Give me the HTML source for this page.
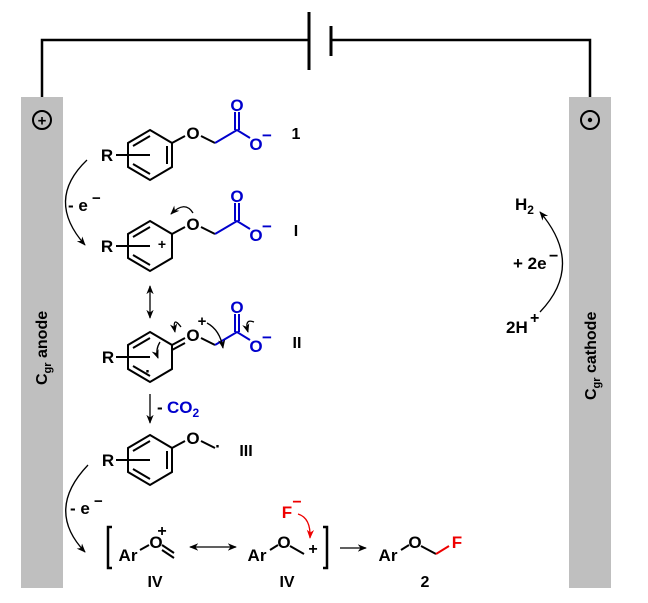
<!DOCTYPE html>
<html><head><style>body{margin:0;background:#fff}svg{display:block}</style></head><body>
<svg width="648" height="603" viewBox="0 0 648 603" xmlns="http://www.w3.org/2000/svg" font-family="Liberation Sans, sans-serif" font-weight="bold">
<defs>
<marker id="ah" viewBox="0 0 10 10" refX="9" refY="5" markerWidth="7" markerHeight="7" orient="auto-start-reverse"><path d="M0,1 L10,5 L0,9 L3,5z" fill="#000"/></marker>
<marker id="ahr" viewBox="0 0 10 10" refX="9" refY="5" markerWidth="7" markerHeight="7" orient="auto"><path d="M0,1 L10,5 L0,9 L3,5z" fill="#e00"/></marker>
</defs>
<path d="M42,97 V40 H308 M330,40 H590 V97" fill="none" stroke="#000" stroke-width="2.5"/>
<line x1="309" y1="12" x2="309" y2="70" stroke="#000" stroke-width="3"/>
<line x1="331" y1="26" x2="331" y2="56" stroke="#000" stroke-width="3"/>
<rect x="21" y="97" width="42" height="491" fill="#bfbfbf"/>
<rect x="569" y="97" width="42" height="491" fill="#bfbfbf"/>
<circle cx="42" cy="120" r="9" fill="none" stroke="#000" stroke-width="2"/>
<text x="42" y="125.5" font-size="15" text-anchor="middle">+</text>
<circle cx="590" cy="120" r="9" fill="none" stroke="#000" stroke-width="2"/>
<circle cx="590" cy="120" r="2.2" fill="#000"/>
<text transform="translate(47,385) rotate(-90)" font-size="16">C<tspan font-size="11" dy="4">gr</tspan><tspan dy="-4"> anode</tspan></text>
<text transform="translate(596,400) rotate(-90)" font-size="16">C<tspan font-size="11" dy="4">gr</tspan><tspan dy="-4"> cathode</tspan></text>

<g fill="none" stroke="#000" stroke-width="2">
<path d="M150,130 L172,143 L172,167 L150,180 L128,167 L128,143 Z"/>
<path d="M133,146 L150,136 M167,146 L167,164 M133,164 L150,174"/>
<path d="M116,155 H150 M172,143 L185,136 M201,136 L215,143"/>
<path d="M150,221 L172,234 L172,258 L150,271 L128,258 L128,234 Z"/>
<path d="M133,237 L150,227 M133,255 L150,265"/>
<path d="M116,246 H150 M172,234 L185,227 M201,227 L215,234"/>
<path d="M150,332 L172,345 L172,369 L150,382 L128,369 L128,345 Z"/>
<path d="M133,348 L150,338 M133,366 L150,376"/>
<path d="M116,357 H150 M172,345 L185,338 M172,350 L185,343 M201,338 L215,345"/>
<path d="M150,435 L172,448 L172,472 L150,485 L128,472 L128,448 Z"/>
<path d="M133,451 L150,441 M167,451 L167,469 M133,469 L150,479"/>
<path d="M116,460 H150 M172,448 L185,441 M201,441 L215,448"/>
</g>
<g fill="none" stroke="#0000cc" stroke-width="2">
<path d="M215,143 L237,130 L250,138 M235,130 V112 M239,130 V112"/>
<path d="M215,234 L237,221 L250,229 M235,221 V203 M239,221 V203"/>
<path d="M215,345 L237,332 L250,340 M235,332 V314 M239,332 V314"/>
</g>
<g font-size="17" text-anchor="middle">
<text x="107" y="161">R</text><text x="107" y="252">R</text><text x="108" y="363">R</text><text x="108" y="466">R</text>
<text x="193" y="139">O</text><text x="193" y="230">O</text><text x="193" y="341">O</text><text x="193" y="444">O</text>
<text x="202" y="326" font-size="15">+</text>
<text x="162" y="249" font-size="14">+</text>
<text x="296" y="139" font-size="16">1</text><text x="296" y="236" font-size="16">I</text><text x="297" y="348" font-size="16">II</text><text x="246" y="456" font-size="16">III</text>
<text x="218" y="452">·</text>
<text x="148" y="377">·</text>
</g>
<g font-size="17" fill="#0000cc" text-anchor="middle">
<text x="237" y="111">O</text><text x="256" y="150">O</text><text x="267" y="141">−</text>
<text x="237" y="202">O</text><text x="256" y="241">O</text><text x="267" y="232">−</text>
<text x="237" y="313">O</text><text x="256" y="352">O</text><text x="267" y="343">−</text>
</g>
<text x="167" y="413" font-size="17" fill="#0000cc">CO<tspan font-size="12" dy="4">2</tspan></text>
<text x="157" y="413" font-size="17">-</text>
<g fill="none" stroke="#000" stroke-width="1.3">
<path d="M87,160 Q45,200 85,245" marker-end="url(#ah)"/>
<path d="M88,465 Q45,510 85,552" marker-end="url(#ah)"/>
<line x1="150" y1="286" x2="150" y2="318" marker-end="url(#ah)" marker-start="url(#ah)"/>
<line x1="150" y1="394" x2="150" y2="423" marker-end="url(#ah)"/>
<line x1="190" y1="547" x2="236" y2="547" marker-end="url(#ah)" marker-start="url(#ah)"/>
<line x1="340" y1="548" x2="366" y2="548" marker-end="url(#ah)"/>
<path d="M540,312 Q585,265 540,212" marker-end="url(#ah)"/>
<path d="M193,213 Q185,200 171,214" marker-end="url(#ah)"/>
<path d="M181,327 Q172,315 175,332" marker-end="url(#ah)"/>
<path d="M160,342 Q155,350 158,358" marker-end="url(#ah)"/>
<path d="M207,323 Q220,330 223,348" marker-end="url(#ah)"/>
<path d="M254,322 Q244,318 248,332" marker-end="url(#ah)"/>
</g>
<g font-size="17">
<text x="68" y="211">- e</text><text x="92" y="203" font-size="15">−</text>
<text x="70" y="514">- e</text><text x="94" y="506" font-size="15">−</text>
<text x="515" y="210">H<tspan font-size="12" dy="4">2</tspan></text>
<text x="513" y="269">+ 2e</text><text x="549" y="261" font-size="16">−</text>
<text x="506" y="333">2H</text><text x="530" y="323" font-size="16">+</text>
</g>
<g fill="none" stroke="#000" stroke-width="2.5">
<path d="M112,527 H108 V568 H112"/>
<path d="M323,527 H327 V568 H323"/>
</g>
<g fill="none" stroke="#000" stroke-width="2">
<path d="M140,550 L149,545 M162,545 L174,553 M162,550 L174,558"/>
<path d="M270,550 L278,545 M290,546 L304,554"/>
<path d="M401,550 L409,545 M421,546 L436,554"/>
</g>
<path d="M436,554 L449,546" stroke="#e00" stroke-width="2"/>
<g font-size="17" text-anchor="middle">
<text x="128" y="561">Ar</text><text x="156" y="548">O</text><text x="162" y="536" font-size="16">+</text>
<text x="257" y="561">Ar</text><text x="284" y="548">O</text><text x="313" y="554" font-size="16">+</text>
<text x="388" y="561">Ar</text><text x="415" y="548">O</text>
<text x="155" y="587" font-size="16">IV</text><text x="287" y="587" font-size="16">IV</text><text x="425" y="587" font-size="16">2</text>
</g>
<g font-size="17" fill="#e00" text-anchor="middle">
<text x="287" y="518">F</text><text x="297" y="507" font-size="16">−</text>
<text x="457" y="548">F</text>
</g>
<path d="M298,514 Q311,518 310,538" fill="none" stroke="#e00" stroke-width="1.3" marker-end="url(#ahr)"/>
</svg>
</body></html>
